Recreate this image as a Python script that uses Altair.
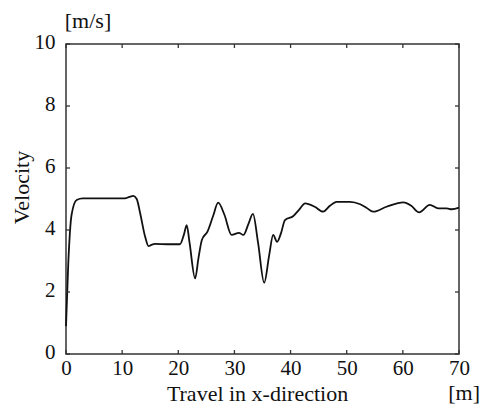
import altair as alt
import pandas as pd

# Travel in x-direction [m]
travel = [0, 0.4, 1.0, 1.9, 3.0, 6, 10.5, 11.3, 12.0, 12.6, 13.2, 14.1, 14.7, 15.2, 15.9, 18,
          20.3, 21.0, 21.5, 22.0, 23.0, 23.6, 24.2, 25.2, 26.2, 27.1, 28.2, 29.5, 30.8, 31.6,
          32.5, 33.3, 34.2, 35.3, 36.2, 36.9, 37.6, 38.3, 39.0, 40.5, 41.5, 42.6, 44.3, 45.8,
          47.0, 48.2, 50.6, 52.4, 53.5, 54.7, 57.1, 60.1, 61.5, 62.9, 64.8, 66.3, 67.8, 68.7, 70]
# Velocity [m/s]
velocity = [0.9, 2.9, 4.5, 4.97, 5.02, 5.02, 5.02, 5.07, 5.1, 5.0, 4.55, 3.78, 3.48, 3.52, 3.55,
            3.54, 3.54, 3.85, 4.16, 3.6, 2.44, 3.1, 3.68, 3.95, 4.45, 4.88, 4.5, 3.84, 3.91, 3.84,
            4.2, 4.52, 3.6, 2.30, 3.2, 3.84, 3.62, 3.9, 4.32, 4.45, 4.65, 4.86, 4.75, 4.59,
            4.78, 4.91, 4.91, 4.83, 4.72, 4.59, 4.75, 4.89, 4.78, 4.57, 4.81, 4.70, 4.70, 4.67, 4.72]

x_ticks = [0, 10, 20, 30, 40, 50, 60, 70]
y_ticks = [0, 2, 4, 6, 8, 10]

FONT = "Liberation Serif"
LABEL_SIZE = 21
TITLE_SIZE = 22
W, H = 393, 310

df = pd.DataFrame({"x": travel, "v": velocity})
xt = pd.DataFrame({"x": x_ticks})
yt = pd.DataFrame({"v": y_ticks})

xscale = alt.Scale(domain=[0, 70], nice=False, zero=False)
yscale = alt.Scale(domain=[0, 10], nice=False, zero=False)

line = alt.Chart(df).mark_line(color="#111111", strokeWidth=1.8, interpolate="monotone").encode(
    x=alt.X("x:Q", scale=xscale,
            axis=alt.Axis(values=x_ticks, grid=False, ticks=False, domain=False,
                          labelPadding=3, labelFont=FONT, labelFontSize=LABEL_SIZE, labelColor="#111",
                          labelFlush=False, labelOverlap=False,
                          title="Travel in x-direction", titleFont=FONT, titleFontSize=TITLE_SIZE,
                          titleFontWeight="normal", titleColor="#111",
                          titleX=191, titleY=46, titleBaseline="alphabetic", titleAlign="center")),
    y=alt.Y("v:Q", scale=yscale,
            axis=alt.Axis(values=y_ticks, grid=False, ticks=False, domain=False,
                          labelPadding=11, labelFont=FONT, labelFontSize=LABEL_SIZE, labelColor="#111",
                          labelFlush=False, labelOverlap=False, labelOffset=-2,
                          title="Velocity", titleFont=FONT, titleFontSize=TITLE_SIZE,
                          titleFontWeight="normal", titleColor="#111", titleAngle=270,
                          titleX=-45, titleY=143, titleBaseline="middle", titleAlign="center")),
)

tick_color = "#333333"
bottom_ticks = alt.Chart(xt).mark_rule(color=tick_color, strokeWidth=1.3).encode(
    x="x:Q", y=alt.value(H), y2=alt.value(H - 4))
top_ticks = alt.Chart(xt).mark_rule(color=tick_color, strokeWidth=1.3).encode(
    x="x:Q", y=alt.value(0), y2=alt.value(4))
left_ticks = alt.Chart(yt).mark_rule(color=tick_color, strokeWidth=1.3).encode(
    y="v:Q", x=alt.value(0), x2=alt.value(4))
right_ticks = alt.Chart(yt).mark_rule(color=tick_color, strokeWidth=1.3).encode(
    y="v:Q", x=alt.value(W), x2=alt.value(W - 4))

unit_df = pd.DataFrame({"label": ["[m/s]"]})
unit_y = alt.Chart(unit_df).mark_text(font=FONT, fontSize=TITLE_SIZE, color="#111", align="center",
                                      baseline="alphabetic").encode(
    text="label:N", x=alt.value(22), y=alt.value(-16))
unit_x_df = pd.DataFrame({"label": ["[m]"]})
unit_x = alt.Chart(unit_x_df).mark_text(font=FONT, fontSize=TITLE_SIZE, color="#111", align="right",
                                        baseline="alphabetic").encode(
    text="label:N", x=alt.value(414), y=alt.value(356))

chart = alt.layer(line, bottom_ticks, top_ticks, left_ticks, right_ticks, unit_y, unit_x).properties(
    width=W, height=H,
    autosize=alt.AutoSizeParams(type="none"),
    padding={"left": 66, "top": 44, "right": 23, "bottom": 56},
    background="white",
).configure(font=FONT).configure_axis(labelFont=FONT, titleFont=FONT).configure_view(
    stroke="#333333", strokeWidth=1.5)

chart.save("out.html", embed_options={"renderer": "svg", "actions": False})
